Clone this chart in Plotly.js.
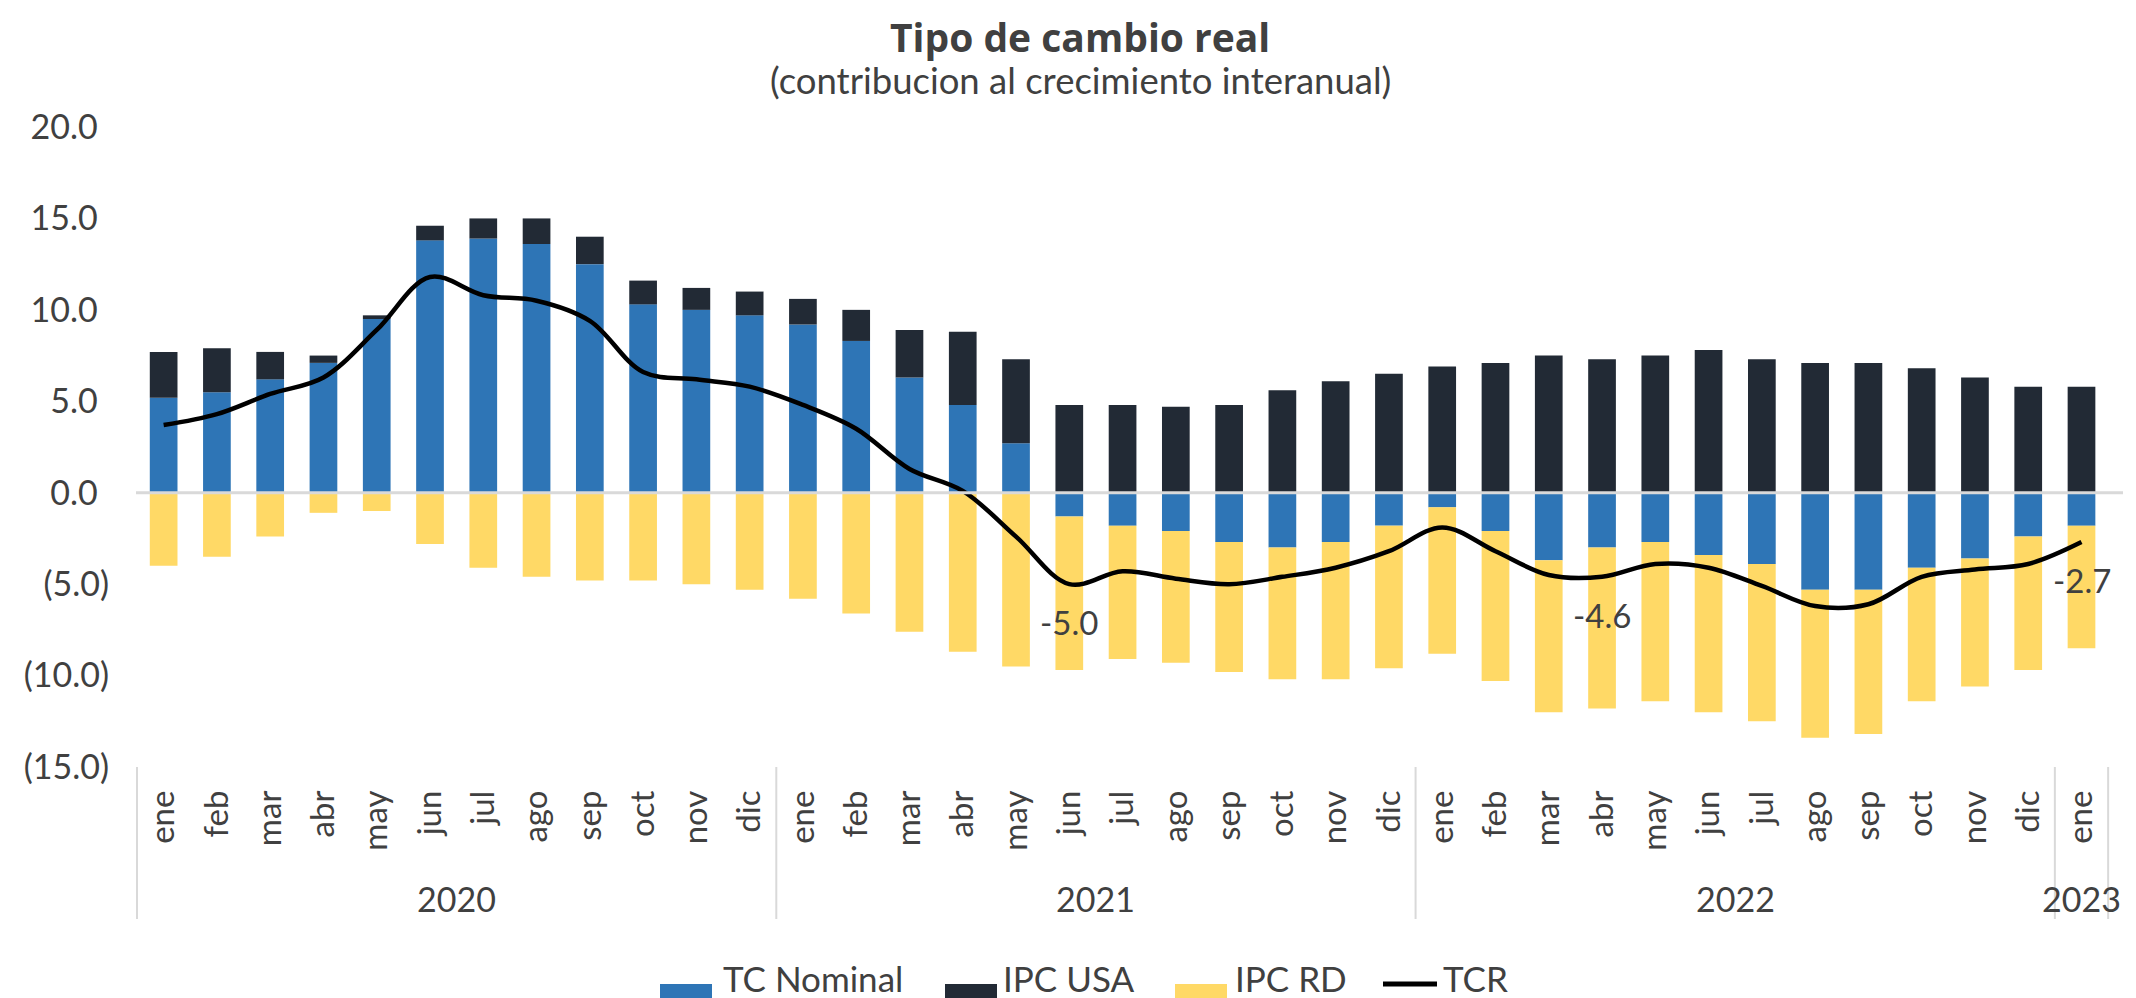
<!DOCTYPE html>
<html>
<head>
<meta charset="utf-8">
<script src="https://cdn.plot.ly/plotly-3.0.1.min.js"></script>
<style>
  html, body { margin: 0; padding: 0; background: #ffffff; }
  #chart { width: 2136px; height: 998px; }
</style>
</head>
<body>
<div id="chart"></div>
<script>
// Meses y años del eje de categorías
const years = ['2020','2020','2020','2020','2020','2020','2020','2020','2020','2020','2020','2020',
               '2021','2021','2021','2021','2021','2021','2021','2021','2021','2021','2021','2021',
               '2022','2022','2022','2022','2022','2022','2022','2022','2022','2022','2022','2022',
               '2023'];
const months = ['ene','feb','mar','abr','may','jun','jul','ago','sep','oct','nov','dic',
                'ene','feb','mar','abr','may','jun','jul','ago','sep','oct','nov','dic',
                'ene','feb','mar','abr','may','jun','jul','ago','sep','oct','nov','dic',
                'ene'];

// Contribuciones al crecimiento interanual (puntos porcentuales)
const tcNominal = [5.2, 5.5, 6.2, 7.1, 9.5, 13.8, 13.9, 13.6, 12.5, 10.3, 10.0, 9.7,
                   9.2, 8.3, 6.3, 4.8, 2.7, -1.3, -1.8, -2.1, -2.7, -3.0, -2.7, -1.8,
                   -0.8, -2.1, -3.7, -3.0, -2.7, -3.4, -3.9, -5.3, -5.3, -4.1, -3.6, -2.4,
                   -1.8];
const ipcUSA = [2.5, 2.4, 1.5, 0.4, 0.2, 0.8, 1.1, 1.4, 1.5, 1.3, 1.2, 1.3,
                1.4, 1.7, 2.6, 4.0, 4.6, 4.8, 4.8, 4.7, 4.8, 5.6, 6.1, 6.5,
                6.9, 7.1, 7.5, 7.3, 7.5, 7.8, 7.3, 7.1, 7.1, 6.8, 6.3, 5.8,
                5.8];
const ipcRD = [-4.0, -3.5, -2.4, -1.1, -1.0, -2.8, -4.1, -4.6, -4.8, -4.8, -5.0, -5.3,
               -5.8, -6.6, -7.6, -8.7, -9.5, -8.4, -7.3, -7.2, -7.1, -7.2, -7.5, -7.8,
               -8.0, -8.2, -8.3, -8.8, -8.7, -8.6, -8.6, -8.1, -7.9, -7.3, -7.0, -7.3,
               -6.7];
const tcr = [3.7, 4.3, 5.4, 6.3, 8.9, 11.8, 10.8, 10.5, 9.4, 6.6, 6.2, 5.8,
             4.8, 3.5, 1.3, 0.1, -2.4, -5.0, -4.3, -4.7, -5.0, -4.6, -4.1, -3.2,
             -1.9, -3.2, -4.5, -4.6, -3.9, -4.1, -5.1, -6.2, -6.1, -4.6, -4.2, -3.9,
             -2.7];
// Puntos del TCR con etiqueta de valor
const labeledPoints = [17, 27, 36];

const yTicks = [-15, -10, -5, 0, 5, 10, 15, 20];

const seriesNames = ['TC Nominal', 'IPC USA', 'IPC RD', 'TCR'];
const colors = { tc: '#2E75B6', usa: '#222A35', rd: '#FFD966', tcr: '#000000' };

const FONT = 'Lato, "Open Sans", sans-serif';
const TXT = '#404040';
const GRID = '#D9D9D9';

// Claves únicas de categoría (año-mes) para el eje x
const cats = months.map((m, i) => years[i] + '-' + m);

const bar = (name, y, color) => ({
  type: 'bar', name: name, x: cats, y: y,
  marker: { color: color, line: { width: 0 } },
  showlegend: false, hoverinfo: 'x+y'
});

const traces = [
  bar(seriesNames[0], tcNominal, colors.tc),
  bar(seriesNames[1], ipcUSA, colors.usa),
  bar(seriesNames[2], ipcRD, colors.rd),
  {
    type: 'scatter', mode: 'lines', name: seriesNames[3], x: cats, y: tcr,
    line: { color: colors.tcr, width: 4.5, shape: 'spline', smoothing: 1 },
    showlegend: false
  }
];

const fmtY = v => v < 0 ? '(' + Math.abs(v).toFixed(1) + ')' : v.toFixed(1) + '\u2004';

// Grupos de años: inicio y fin en índices de categoría
const groups = [];
years.forEach((y, i) => {
  if (!groups.length || groups[groups.length - 1].year !== y) groups.push({ year: y, start: i, end: i });
  else groups[groups.length - 1].end = i;
});

const shapes = [];
const annotations = [];

// Línea de cero sobre las barras
shapes.push({ type: 'line', xref: 'paper', yref: 'y', x0: 0, x1: 1, y0: 0, y1: 0,
  line: { color: GRID, width: 3 }, layer: 'above' });

// Separadores de años y etiquetas de año
const divBottom = -0.2375;
const bounds = [groups[0].start - 0.5].concat(groups.map(g => g.end + 0.5));
bounds.forEach(b => shapes.push({ type: 'line', xref: 'x', yref: 'paper', x0: b, x1: b, y0: 0, y1: divBottom,
  line: { color: GRID, width: 2 } }));
groups.forEach(g => annotations.push({
  xref: 'x', yref: 'paper', x: (g.start + g.end) / 2, y: -0.2047, yanchor: 'middle',
  text: g.year, showarrow: false, font: { family: FONT, size: 34, color: TXT }
}));

// Etiquetas de valor del TCR
labeledPoints.forEach(i => annotations.push({
  xref: 'x', yref: 'y', x: cats[i], y: tcr[i], yshift: -38, yanchor: 'middle',
  text: tcr[i].toFixed(1), showarrow: false, font: { family: FONT, size: 33, color: TXT }
}));

// Título y subtítulo
annotations.push({ xref: 'paper', yref: 'paper', x: (1080 - 136) / 1987, y: (767 - 36) / 640,
  xanchor: 'center', yanchor: 'middle', showarrow: false,
  text: '<b>Tipo de cambio real</b>', font: { family: '"Open Sans", sans-serif', size: 39, color: TXT } });
annotations.push({ xref: 'paper', yref: 'paper', x: (1080 - 136) / 1987, y: (767 - 80) / 640,
  xanchor: 'center', yanchor: 'middle', showarrow: false,
  text: '(contribucion al crecimiento interanual)', font: { family: FONT, size: 36.5, color: TXT } });

// Leyenda
const px = x => (x - 136) / 1987;
const py = y => (767 - y) / 640;
const legendItems = [
  { name: seriesNames[0], kind: 'box', color: colors.tc, x0: 660, x1: 712, tx: 721 },
  { name: seriesNames[1], kind: 'box', color: colors.usa, x0: 945, x1: 997, tx: 1001 },
  { name: seriesNames[2], kind: 'box', color: colors.rd, x0: 1175, x1: 1227, tx: 1233 },
  { name: seriesNames[3], kind: 'line', color: colors.tcr, x0: 1383, x1: 1437, tx: 1441 }
];
legendItems.forEach(it => {
  if (it.kind === 'box') {
    shapes.push({ type: 'rect', xref: 'paper', yref: 'paper', x0: px(it.x0), x1: px(it.x1),
      y0: py(984), y1: py(998), fillcolor: it.color, line: { width: 0 } });
  } else {
    shapes.push({ type: 'line', xref: 'paper', yref: 'paper', x0: px(it.x0), x1: px(it.x1),
      y0: py(984), y1: py(984), line: { color: it.color, width: 5 } });
  }
  annotations.push({ xref: 'paper', yref: 'paper', x: px(it.tx), y: py(978), xanchor: 'left', yanchor: 'middle',
    text: it.name, showarrow: false, font: { family: FONT, size: 35, color: TXT } });
});

const layout = {
  width: 2136, height: 998,
  margin: { l: 136, r: 13, t: 127, b: 231 },
  paper_bgcolor: '#ffffff', plot_bgcolor: '#ffffff',
  barmode: 'relative', bargap: 0.48,
  showlegend: false,
  font: { family: FONT, color: TXT },
  xaxis: {
    type: 'category', tickvals: cats, ticktext: months, tickangle: -90,
    showgrid: false, zeroline: false, showline: false, ticks: '',
    ticklabelstandoff: 16,
    tickfont: { family: FONT, size: 33, color: TXT }
  },
  yaxis: {
    range: [-15, 20], tickvals: yTicks, ticktext: yTicks.map(fmtY),
    showgrid: false, zeroline: false, showline: false, ticks: '',
    ticklabelstandoff: 26,
    tickfont: { family: FONT, size: 34, color: TXT }
  },
  shapes: shapes,
  annotations: annotations
};

Plotly.newPlot('chart', traces, layout, { displayModeBar: false, staticPlot: true });
</script>
</body>
</html>
